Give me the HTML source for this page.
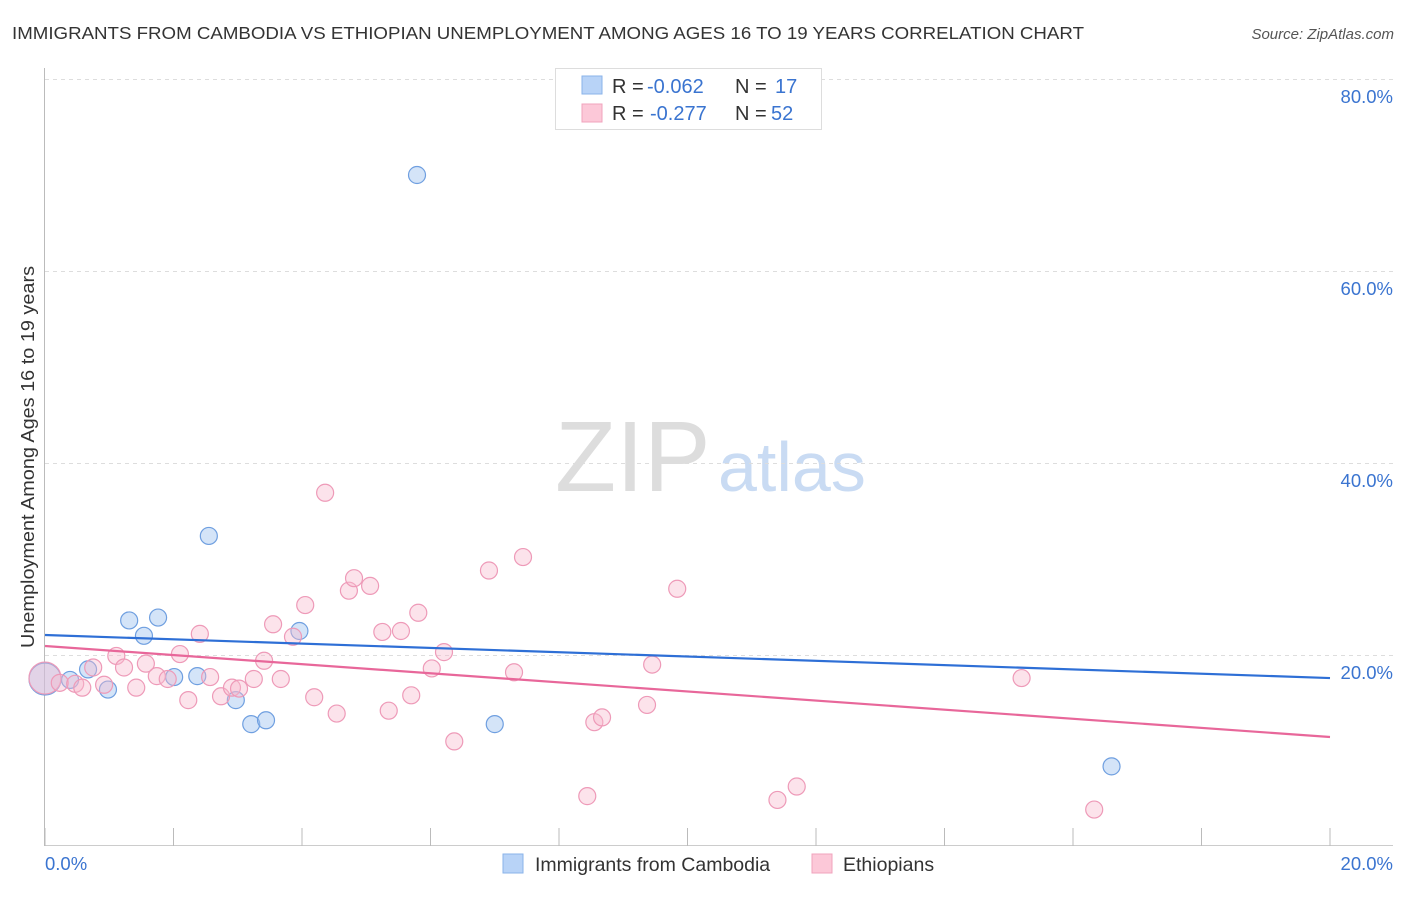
<!DOCTYPE html>
<html><head><meta charset="utf-8"><style>
body{margin:0;background:#fff;font-family:"Liberation Sans",sans-serif}
svg text{font-family:"Liberation Sans",sans-serif}
</style></head><body>
<svg id="chart" width="1406" height="892">
<text x="12" y="39" font-size="17.5" fill="#333" textLength="1072" lengthAdjust="spacingAndGlyphs">IMMIGRANTS FROM CAMBODIA VS ETHIOPIAN UNEMPLOYMENT AMONG AGES 16 TO 19 YEARS CORRELATION CHART</text>
<text x="1394" y="39" font-size="15" fill="#555" font-style="italic" text-anchor="end">Source: ZipAtlas.com</text>
<text transform="translate(34,457) rotate(-90)" font-size="18" fill="#333" text-anchor="middle" textLength="382" lengthAdjust="spacingAndGlyphs">Unemployment Among Ages 16 to 19 years</text>
<text x="555" y="491" font-size="100" fill="#ddd" font-family="Liberation Serif">ZIP</text>
<text x="718" y="491" font-size="70" fill="#c9dbf3">atlas</text>
<g id="grid"></g><g id="axes"></g><g id="marks"></g>
<g>
<rect x="555.5" y="68.5" width="266" height="61" fill="#fff" stroke="#ddd"/>
<rect x="582" y="76" width="20" height="18" fill="#b8d3f7" stroke="#8ab3ea"/>
<rect x="582" y="104" width="20" height="18" fill="#fcc8d8" stroke="#f0a3bd"/>
<text x="612" y="93" font-size="20" fill="#333">R = <tspan x="647" fill="#3a74d0">-0.062</tspan><tspan x="735">N = </tspan><tspan x="775" fill="#3a74d0">17</tspan></text>
<text x="612" y="120" font-size="20" fill="#333">R = <tspan x="650" fill="#3a74d0">-0.277</tspan><tspan x="735">N = </tspan><tspan x="771" fill="#3a74d0">52</tspan></text>
</g>
<g>
<rect x="503" y="854" width="20" height="19" fill="#b8d3f7" stroke="#8ab3ea"/>
<text x="535" y="871" font-size="19.5" fill="#333">Immigrants from Cambodia</text>
<rect x="812" y="854" width="20" height="19" fill="#fcc8d8" stroke="#f0a3bd"/>
<text x="843" y="871" font-size="19.5" fill="#333">Ethiopians</text>
</g>
<text x="45" y="870" font-size="18.5" fill="#3a74d0">0.0%</text>
<text x="1393" y="870" font-size="18.5" fill="#3a74d0" text-anchor="end">20.0%</text>
</svg>
<script>
const yTicks=[20,40,60,80];
const yTickLabels=["20.0%","40.0%","60.0%","80.0%"];
const xTicks=[0,2,4,6,8,10,12,14,16,18,20];
const camX=[0,0.39,0.67,0.98,1.31,1.54,1.76,2.01,2.37,2.55,2.97,3.21,3.44,3.96,5.79,7.0,16.6];
const camY=[17.5,17.4,18.5,16.4,23.6,22.0,23.9,17.7,17.8,32.4,15.3,12.8,13.2,22.5,70.0,12.8,8.4];
const camR=[16,8.5,8.5,8.5,8.5,8.5,8.5,8.5,8.5,8.5,8.5,8.5,8.5,8.5,8.5,8.5,8.5];
const ethX=[0,0.23,0.47,0.58,0.75,0.92,1.11,1.23,1.42,1.57,1.74,1.91,2.1,2.23,2.41,2.57,2.74,2.91,3.02,3.25,3.41,3.55,3.67,3.86,4.05,4.19,4.36,4.54,4.73,4.81,5.06,5.25,5.35,5.54,5.7,5.81,6.02,6.21,6.37,6.91,7.3,7.44,8.44,8.55,8.67,9.37,9.45,9.84,11.4,11.7,15.2,16.33];
const ethY=[17.6,17.1,17.0,16.6,18.7,16.9,19.9,18.7,16.6,19.1,17.8,17.5,20.1,15.3,22.2,17.7,15.7,16.6,16.5,17.5,19.4,23.2,17.5,21.9,25.2,15.6,36.9,13.9,26.7,28.0,27.2,22.4,14.2,22.5,15.8,24.4,18.6,20.3,11.0,28.8,18.2,30.2,5.3,13.0,13.5,14.8,19.0,26.9,4.9,6.3,17.6,3.9];
const camTrend=[22.08,17.6];
const ethTrend=[20.94,11.46];
const ns="http://www.w3.org/2000/svg";
const X=v=>45+v/20*1285, Y=v=>847-v*9.6;
function mk(t,a,p){const e=document.createElementNS(ns,t);for(const k in a)e.setAttribute(k,a[k]);p.appendChild(e);return e;}
const grid=document.getElementById('grid'),axes=document.getElementById('axes'),marks=document.getElementById('marks');
yTicks.forEach((t,i)=>{
 const l=mk('line',{x1:45,x2:1393,y1:Y(t)+0.5,y2:Y(t)+0.5,stroke:'#ddd','stroke-dasharray':'4,4'},grid);
 
 
 const tx=mk('text',{x:1393,y:Y(t)+24,'font-size':18.5,fill:'#3a74d0','text-anchor':'end'},grid);
 tx.textContent=yTickLabels[i];
 
 
});
const xa=mk('line',{x1:45,x2:1393,y1:845.5,y2:845.5,stroke:'#ccc'},axes);


const ya=mk('line',{x1:44.5,x2:44.5,y1:68,y2:846,stroke:'#bbb'},axes);


xTicks.forEach(t=>{
 const l=mk('line',{x1:X(t),x2:X(t),y1:828,y2:846,stroke:'#bbb'},axes);
 
 
});
camX.forEach((v,i)=>{
 const c=mk('circle',{cx:X(v),cy:Y(camY[i]),r:camR[i],fill:'rgba(160,195,240,0.45)',stroke:'#6f9fe0','stroke-width':1.2},marks);
 
 
});
ethX.forEach((v,i)=>{
 const c=mk('circle',{cx:X(v),cy:Y(ethY[i]),r:i==0?16:8.5,fill:'rgba(248,185,205,0.4)',stroke:'#ee9ab8','stroke-width':1.2},marks);
 
 
});
const t1=mk('line',{x1:X(0),x2:X(20),y1:Y(camTrend[0]),y2:Y(camTrend[1]),stroke:'#2e6fd6','stroke-width':2.2},marks);


const t2=mk('line',{x1:X(0),x2:X(20),y1:Y(ethTrend[0]),y2:Y(ethTrend[1]),stroke:'#e8679a','stroke-width':2.2},marks);


</script>
</body></html>
